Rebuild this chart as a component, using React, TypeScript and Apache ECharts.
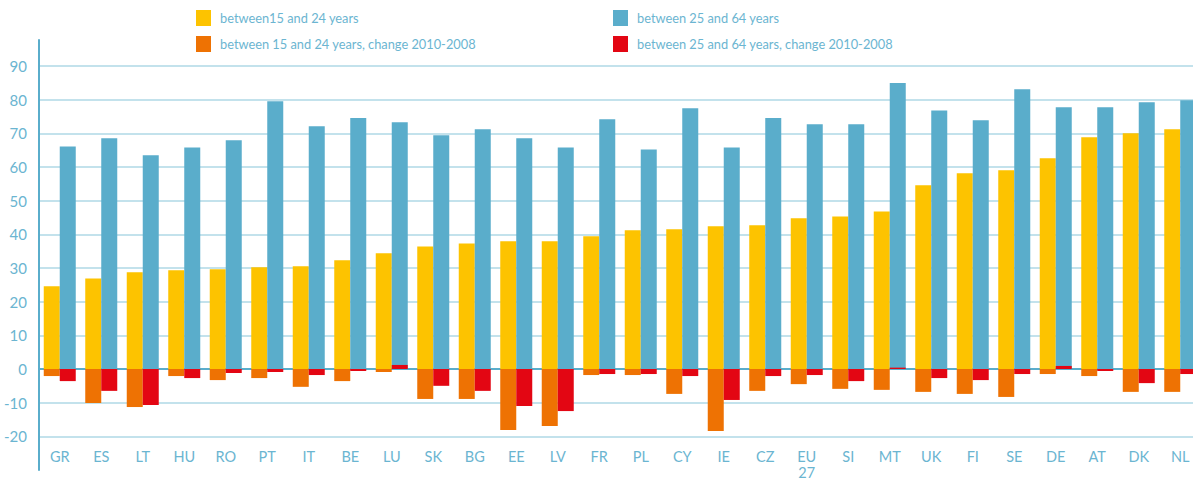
import React, { useEffect, useRef } from "react";
import * as echarts from "echarts";

const categories = ["GR","ES","LT","HU","RO","PT","IT","BE","LU","SK","BG","EE","LV","FR","PL","CY","IE","CZ","EU\n27","SI","MT","UK","FI","SE","DE","AT","DK","NL"];
const youth = [24.6,26.9,28.7,29.3,29.6,30.2,30.5,32.3,34.4,36.4,37.3,37.9,37.9,39.4,41.2,41.5,42.4,42.7,44.8,45.3,46.8,54.6,58.1,59.0,62.6,68.8,70.0,71.2];
const adults = [66.1,68.5,63.5,65.8,67.9,79.5,72.1,74.5,73.3,69.4,71.2,68.5,65.8,74.2,65.2,77.4,65.8,74.5,72.7,72.7,84.9,76.8,73.9,83.1,77.7,77.7,79.2,79.8];
const youthChange = [-2.1,-10.1,-11.3,-2.1,-3.3,-2.7,-5.3,-3.6,-0.9,-8.9,-8.9,-18.1,-16.9,-1.8,-1.8,-7.4,-18.4,-6.5,-4.5,-5.9,-6.2,-6.8,-7.4,-8.3,-1.5,-2.1,-6.8,-6.8];
const adultChange = [-3.6,-6.5,-10.7,-2.7,-1.2,-0.9,-1.8,-0.6,1.2,-5.0,-6.5,-11.0,-12.5,-1.5,-1.5,-2.1,-9.2,-2.1,-1.8,-3.6,0.4,-2.7,-3.3,-1.5,0.9,-0.6,-4.2,-1.5];

const names = [
  "between15 and 24 years",
  "between 25 and 64 years",
  "between 15 and 24 years, change 2010-2008",
  "between 25 and 64 years, change 2010-2008",
];

const TEXT = "#6BB5D1";
const FONT = "Lato";

export default function App() {
  const ref = useRef<HTMLDivElement>(null);
  useEffect(() => {
    const chart = echarts.init(ref.current!, null, { renderer: "svg" });
    const legendText = { color: TEXT, fontSize: 12.8, fontFamily: FONT, padding: [0, 0, 0, 4] };
    chart.setOption({
      animation: false,
      textStyle: { fontFamily: FONT },
      legend: [
        {
          data: [names[0], names[2]],
          orient: "vertical",
          left: 196,
          top: 10,
          padding: 0,
          icon: "rect",
          itemWidth: 15,
          itemHeight: 16,
          itemGap: 10,
          textStyle: legendText,
        },
        {
          data: [names[1], names[3]],
          orient: "vertical",
          left: 613,
          top: 10,
          padding: 0,
          icon: "rect",
          itemWidth: 15,
          itemHeight: 16,
          itemGap: 10,
          textStyle: legendText,
        },
      ],
      grid: { left: 39, width: 1162, top: 40, bottom: 11, containLabel: false, outerBoundsMode: "none" },
      xAxis: [
        {
          type: "category",
          data: categories,
          position: "bottom",
          axisLine: { show: false, onZero: false },
          axisTick: { show: false },
          axisLabel: { color: TEXT, fontSize: 14.5, fontFamily: FONT, margin: -22, lineHeight: 16, interval: 0 },
          splitLine: { show: false },
        },
        {
          type: "category",
          data: categories,
          position: "bottom",
          axisLine: { show: true, onZero: true, lineStyle: { color: "#5AADCB", width: 2 } },
          axisTick: { show: false },
          axisLabel: { show: false },
          splitLine: { show: false },
        },
      ],
      yAxis: {
        type: "value",
        min: -30,
        max: 97.7,
        interval: 10,
        axisLine: { show: true, lineStyle: { color: "#5AADCB", width: 2 } },
        axisTick: { show: false },
        axisLabel: { color: TEXT, fontSize: 15, fontFamily: FONT, margin: 12, showMinLabel: false, showMaxLabel: false },
        splitLine: { show: true, showMinLine: false, showMaxLine: false, lineStyle: { color: "#C3E2EC", width: 2 } },
      },
      series: [
        { name: names[0], type: "bar", xAxisIndex: 0, data: youth, barWidth: 16, barGap: 0, itemStyle: { color: "#FDC300" } },
        { name: names[1], type: "bar", xAxisIndex: 0, data: adults, barWidth: 16, barGap: 0, itemStyle: { color: "#5AADCB" } },
        { name: names[2], type: "bar", xAxisIndex: 1, data: youthChange, barWidth: 16, barGap: 0, itemStyle: { color: "#EE7203" } },
        { name: names[3], type: "bar", xAxisIndex: 1, data: adultChange, barWidth: 16, barGap: 0, itemStyle: { color: "#E30613" } },
      ],
    });
    return () => chart.dispose();
  }, []);
  return (
    <div
      ref={ref}
      style={{ position: "fixed", left: 0, top: 0, width: 1193, height: 481, background: "#fff" }}
    />
  );
}
